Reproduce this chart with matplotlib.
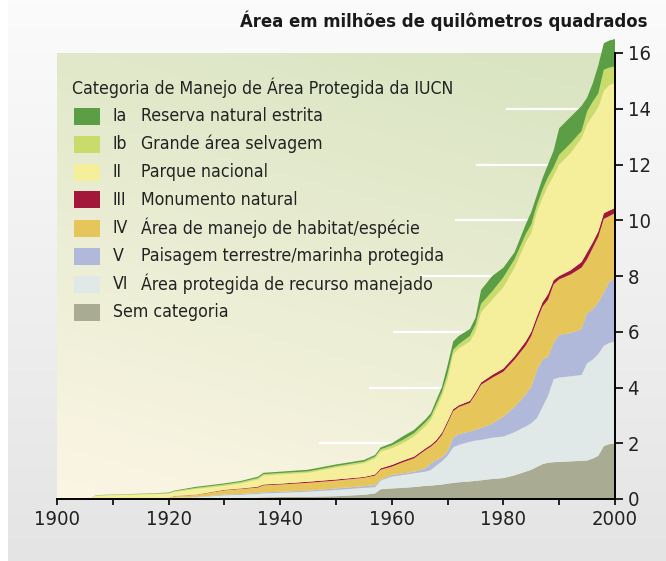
import numpy as np
import matplotlib
matplotlib.use("Agg")
import matplotlib.pyplot as plt
from matplotlib.patches import Rectangle

plt.rcParams['font.family'] = ['DejaVu Sans']
plt.rcParams['font.stretch'] = 'condensed'

# -------------------------------
# DATA (million km2)
# -------------------------------
years = [1900, 1906, 1907, 1915, 1920, 1921, 1925, 1930, 1933, 1936, 1937, 1940,
         1945, 1950, 1955, 1957, 1958, 1960, 1962, 1964, 1966, 1967, 1968, 1969,
         1970, 1971, 1972, 1974, 1975, 1976, 1978, 1980, 1982, 1984, 1985, 1986,
         1987, 1988, 1989, 1990, 1992, 1994, 1995, 1996, 1997, 1998, 1999, 2000]

sem_categoria = [0, 0, 0, 0, 0, 0, 0, 0.02, 0.03, 0.05, 0.06, 0.07,
                 0.08, 0.10, 0.15, 0.20, 0.35, 0.38, 0.40, 0.43, 0.47, 0.48, 0.50, 0.52,
                 0.55, 0.58, 0.60, 0.63, 0.65, 0.67, 0.72, 0.75, 0.85, 0.98, 1.05, 1.15,
                 1.25, 1.30, 1.32, 1.33, 1.35, 1.37, 1.38, 1.45, 1.55, 1.90, 1.97, 2.00]
cat_vi = [0, 0, 0.02, 0.03, 0.04, 0.04, 0.06, 0.11, 0.12, 0.13, 0.14, 0.15,
          0.18, 0.22, 0.25, 0.22, 0.31, 0.42, 0.46, 0.49, 0.51, 0.56, 0.70, 0.83,
          1.00, 1.27, 1.34, 1.42, 1.45, 1.45, 1.48, 1.49, 1.55, 1.62, 1.67, 1.75,
          2.05, 2.40, 2.98, 3.03, 3.05, 3.08, 3.49, 3.55, 3.65, 3.60, 3.63, 3.65]
cat_v = [0, 0, 0, 0, 0, 0.01, 0.01, 0.03, 0.03, 0.04, 0.04, 0.04,
         0.04, 0.06, 0.06, 0.08, 0.04, 0.06, 0.06, 0.06, 0.12, 0.24, 0.20, 0.15,
         0.15, 0.35, 0.39, 0.37, 0.38, 0.43, 0.50, 0.72, 0.90, 1.15, 1.31, 1.73,
         1.70, 1.41, 1.30, 1.53, 1.55, 1.65, 1.80, 1.80, 1.85, 1.90, 2.20, 2.27]
cat_iv = [0, 0, 0, 0, 0.01, 0.05, 0.08, 0.15, 0.18, 0.19, 0.25, 0.26,
          0.28, 0.28, 0.30, 0.34, 0.35, 0.30, 0.40, 0.48, 0.65, 0.60, 0.65, 0.80,
          1.02, 0.95, 0.97, 1.03, 1.27, 1.55, 1.65, 1.61, 1.70, 1.75, 1.82, 1.77,
          1.90, 2.04, 2.10, 1.99, 2.10, 2.20, 1.93, 2.20, 2.35, 2.65, 2.35, 2.34]
cat_iii = [0, 0, 0, 0, 0, 0.01, 0.01, 0.02, 0.02, 0.03, 0.03, 0.03,
           0.04, 0.04, 0.03, 0.04, 0.05, 0.06, 0.06, 0.06, 0.06, 0.06, 0.07, 0.08,
           0.08, 0.07, 0.06, 0.07, 0.08, 0.08, 0.10, 0.11, 0.12, 0.15, 0.15, 0.15,
           0.15, 0.20, 0.15, 0.12, 0.15, 0.20, 0.25, 0.20, 0.20, 0.20, 0.20, 0.18]
cat_ii = [0.02, 0.03, 0.10, 0.13, 0.14, 0.14, 0.20, 0.14, 0.18, 0.26, 0.32, 0.33,
          0.32, 0.43, 0.49, 0.57, 0.60, 0.60, 0.62, 0.72, 0.79, 0.90, 1.13, 1.32,
          1.50, 1.98, 2.04, 2.13, 2.17, 2.52, 2.70, 2.92, 3.18, 3.55, 3.55, 3.75,
          3.75, 3.90, 3.75, 4.00, 4.20, 4.45, 4.60, 4.55, 4.45, 4.40, 4.50, 4.49]
cat_ib = [0, 0, 0.01, 0.02, 0.02, 0.03, 0.04, 0.05, 0.05, 0.05, 0.05, 0.05,
          0.05, 0.05, 0.06, 0.07, 0.08, 0.10, 0.12, 0.12, 0.14, 0.12, 0.15, 0.15,
          0.20, 0.15, 0.15, 0.20, 0.25, 0.30, 0.30, 0.35, 0.30, 0.30, 0.30, 0.25,
          0.30, 0.30, 0.30, 0.35, 0.35, 0.25, 0.45, 0.50, 0.50, 0.75, 0.63, 0.59]
cat_ia = [0, 0, 0.01, 0.01, 0.02, 0.02, 0.04, 0.04, 0.04, 0.05, 0.05, 0.05,
          0.06, 0.06, 0.06, 0.06, 0.07, 0.08, 0.13, 0.12, 0.11, 0.12, 0.16, 0.18,
          0.30, 0.30, 0.30, 0.25, 0.25, 0.50, 0.55, 0.35, 0.25, 0.35, 0.45, 0.35,
          0.40, 0.45, 0.60, 0.95, 0.95, 0.90, 0.50, 0.65, 1.00, 0.95, 0.97, 0.98]

# legend rows, top to bottom
legend_codes = ["Ia", "Ib", "II", "III", "IV", "V", "VI", ""]
legend_names = ["Reserva natural estrita", "Grande área selvagem", "Parque nacional",
                "Monumento natural", "Área de manejo de habitat/espécie",
                "Paisagem terrestre/marinha protegida",
                "Área protegida de recurso manejado", "Sem categoria"]
legend_colors = ["#5b9e43", "#c9dc6b", "#f5ee9a", "#a3173b",
                 "#e6c55a", "#b0b9da", "#e0e9e7", "#a9ab92"]

title = "Área em milhões de quilômetros quadrados"
legend_title = "Categoria de Manejo de Área Protegida da IUCN"
grid_levels = [2, 4, 6, 8, 10, 12, 14]

# -------------------------------
# FIGURE
# -------------------------------
W, H = 666, 561
fig = plt.figure(figsize=(W / 100, H / 100), dpi=100)

# grey panel behind everything
bg = fig.add_axes([0, 0, 1, 1], zorder=-10)
g = np.linspace(0.985, 0.895, 200)[:, None] * np.ones((1, W))
panel = np.dstack([g, g, g])
panel[:, :8, :] = 1.0
bg.imshow(panel, extent=[0, 1, 0, 1], aspect="auto", origin="upper")
bg.axis("off")

ax = fig.add_axes([57 / W, 1 - 499 / H, 558 / W, 446 / H])
ax.set_facecolor("none")

# plot-area gradient: cream bottom-left -> green top-right
u = np.linspace(0, 1, 200)[None, :]
v = np.linspace(1, 0, 200)[:, None]
t = np.clip((0.35 * u + v) / 1.25, 0, 1)
c0 = np.array([0.985, 0.963, 0.895])
c1 = np.array([0.855, 0.898, 0.765])
grad = c0 + (c1 - c0) * t[..., None]
ax.imshow(grad, extent=[1900, 2000, 0, 16.05], aspect="auto", zorder=0)

series = [sem_categoria, cat_vi, cat_v, cat_iv, cat_iii, cat_ii, cat_ib, cat_ia]
stack_colors = legend_colors[::-1]

# short white grid segments left of the curve
total = np.sum(series, axis=0)
for lev in grid_levels:
    cross = np.interp(lev, total, years)
    ax.hlines(lev, cross - 13, 2000, color="white", lw=1.6, zorder=1)

polys = ax.stackplot(years, *series, colors=stack_colors, zorder=2, lw=0)
for p in polys:
    p.set_clip_on(False)

ax.set_xlim(1900, 2000)
ax.set_ylim(0, 16)

for s in ["top", "left"]:
    ax.spines[s].set_visible(False)
for s in ["bottom", "right"]:
    ax.spines[s].set_linewidth(1.4)
    ax.spines[s].set_zorder(5)

ax.yaxis.tick_right()
ax.set_yticks(range(0, 17, 2))
ax.set_xticks(range(1900, 2001, 20))
ax.set_xticks(range(1910, 2000, 20), minor=True)
ax.tick_params(axis="x", which="both", length=4, width=1.4, direction="out",
               labelsize=14.5, pad=4, colors="#222222")
ax.tick_params(axis="y", length=6, width=1.4, direction="out",
               labelsize=14.5, pad=3, colors="#222222")

# title
fig.text(647 / W, 1 - 21 / H, title, ha="right", va="center",
         fontsize=13.2, fontweight="bold", color="#1a1a1a")

# legend
fs = 12.7
fig.text(72 / W, 1 - 88 / H, legend_title, ha="left", va="center",
         fontsize=fs, color="#222222")
for i, (code, name, col) in enumerate(zip(legend_codes, legend_names, legend_colors)):
    yc = 116 + 28 * i
    fig.patches.append(Rectangle((74 / W, 1 - (yc + 8.5) / H), 26 / W, 17 / H,
                                 transform=fig.transFigure, facecolor=col,
                                 edgecolor="none"))
    if code:
        fig.text(113 / W, 1 - yc / H, code, ha="left", va="center",
                 fontsize=fs, color="#222222")
        fig.text(141 / W, 1 - yc / H, name, ha="left", va="center",
                 fontsize=fs, color="#222222")
    else:
        fig.text(113 / W, 1 - yc / H, name, ha="left", va="center",
                 fontsize=fs, color="#222222")

fig.savefig("out.png", dpi=100)
